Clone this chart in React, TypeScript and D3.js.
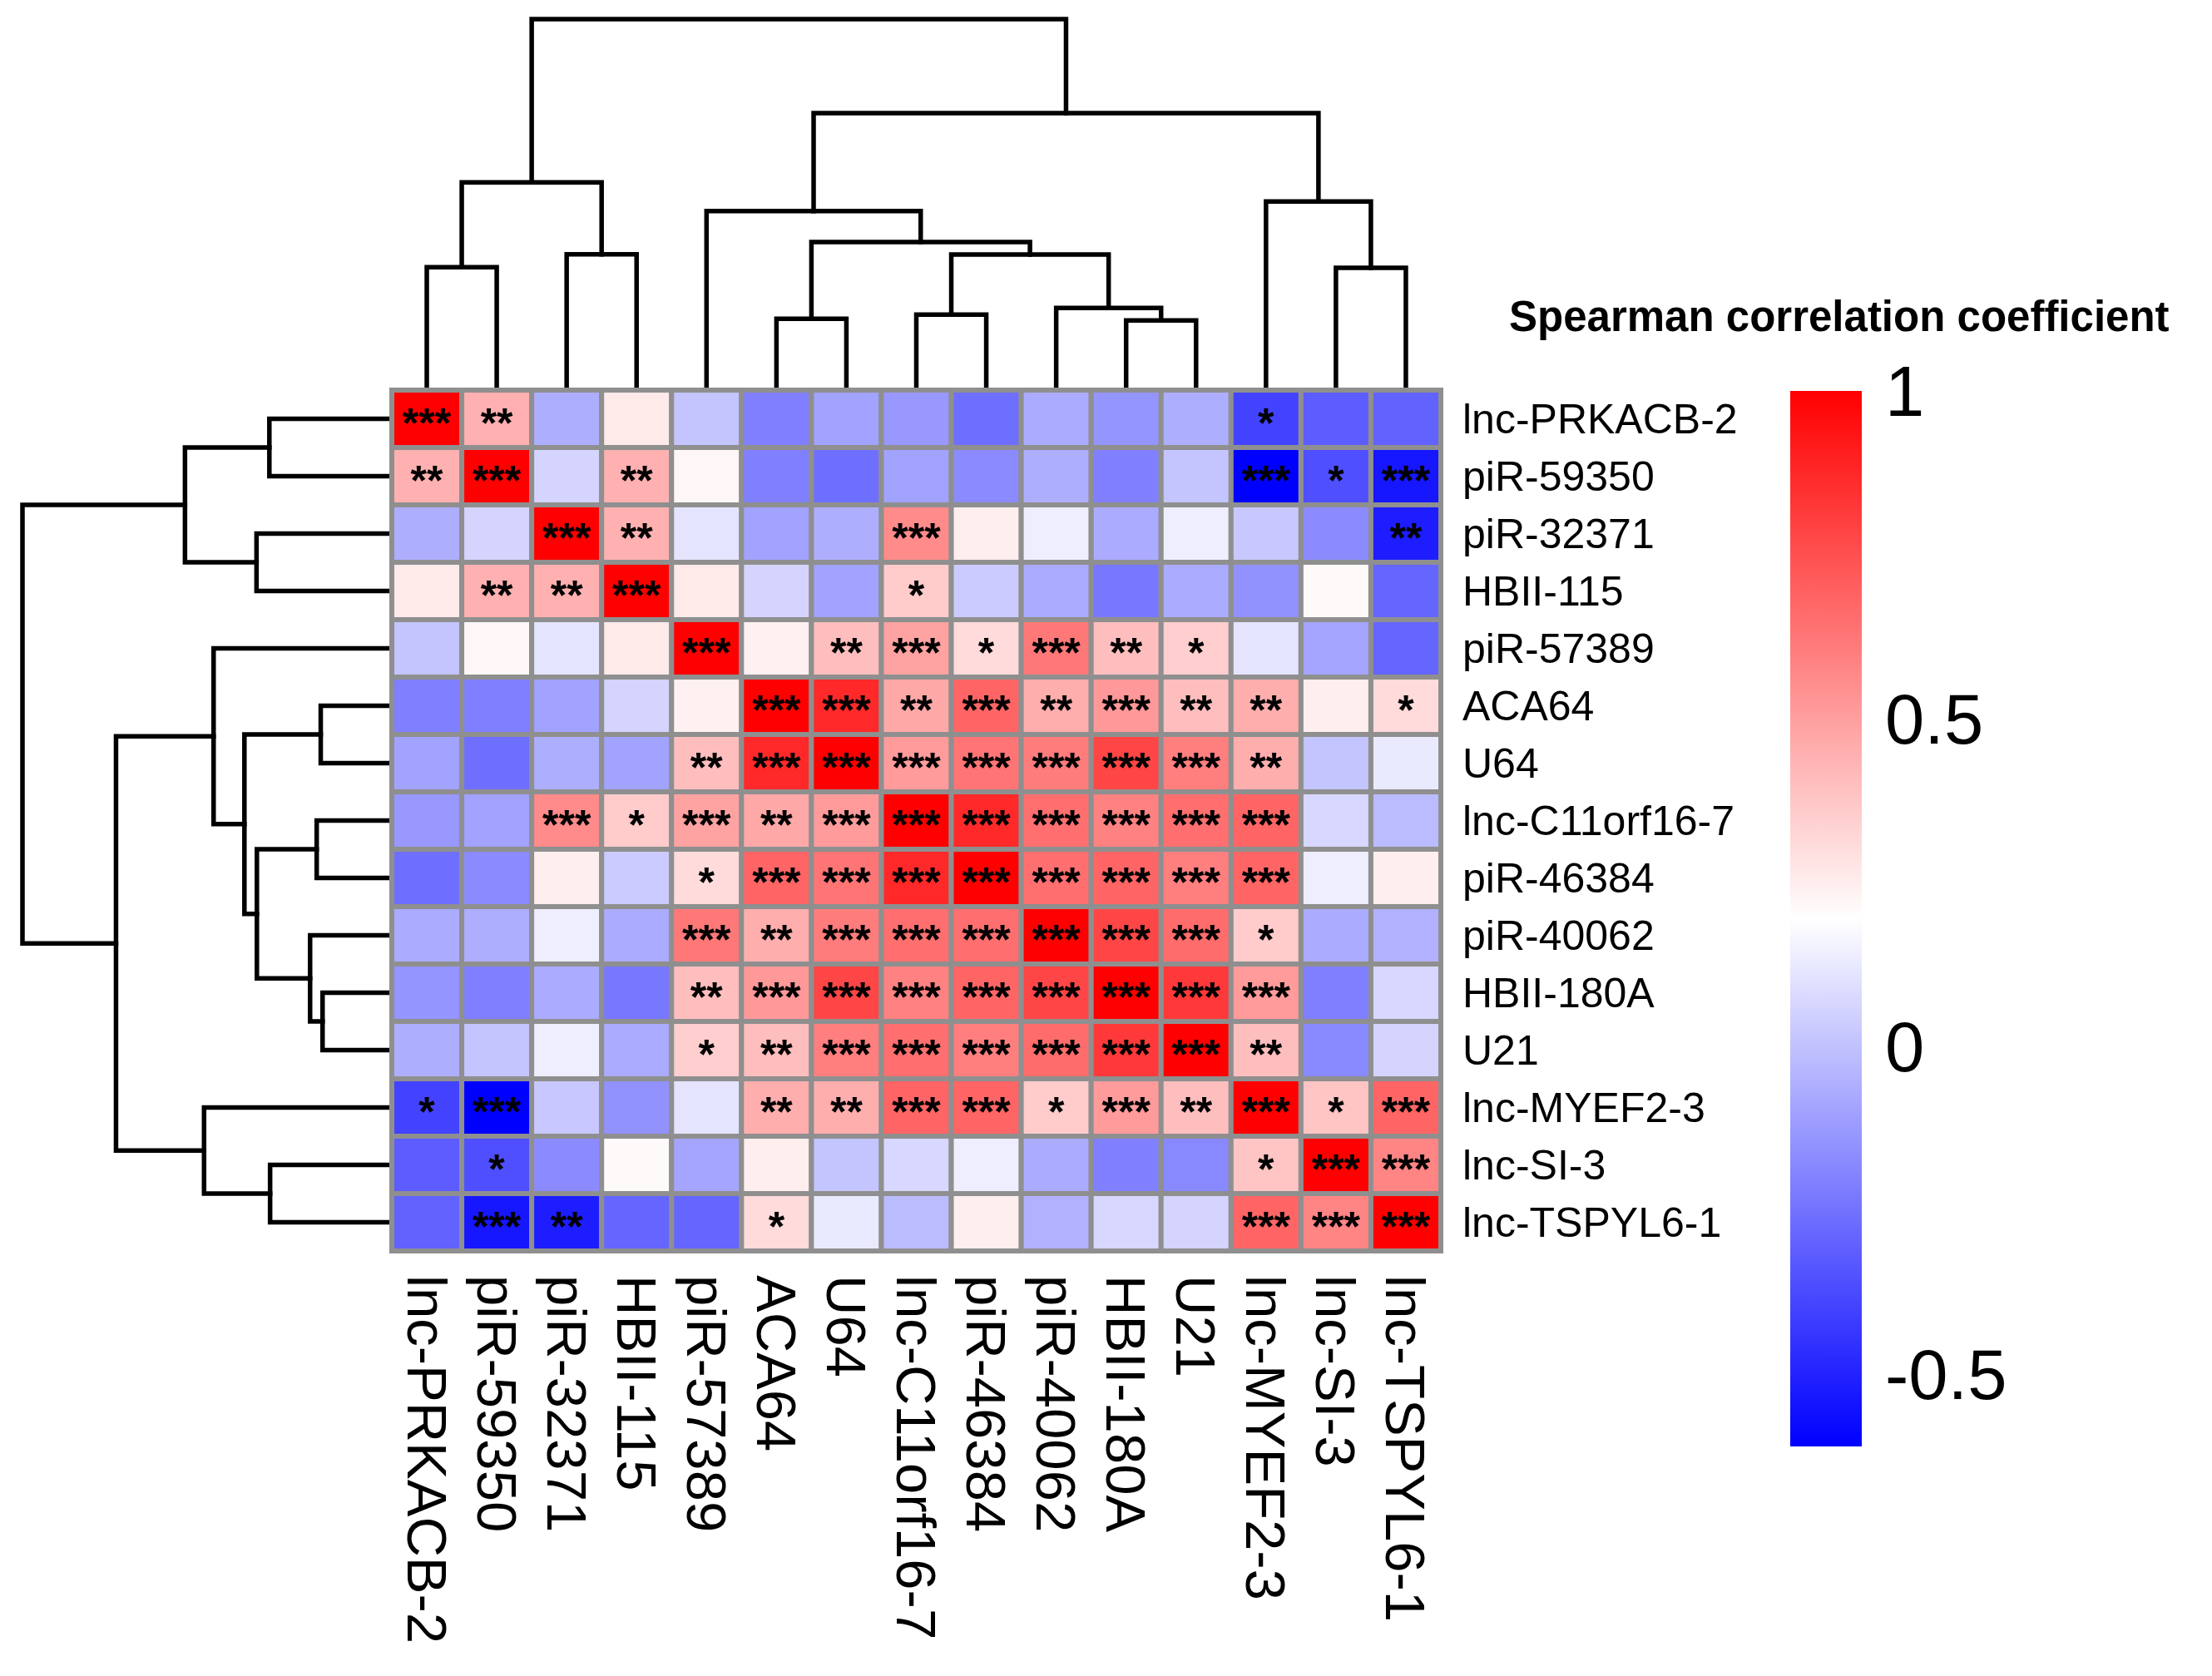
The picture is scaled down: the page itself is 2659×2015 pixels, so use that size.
import React from "react";
import * as d3 from "d3";

// Gene / RNA names (same order for rows and columns, dendrogram order)
const labels = [
  "lnc-PRKACB-2", "piR-59350", "piR-32371", "HBII-115", "piR-57389",
  "ACA64", "U64", "lnc-C11orf16-7", "piR-46384", "piR-40062",
  "HBII-180A", "U21", "lnc-MYEF2-3", "lnc-SI-3", "lnc-TSPYL6-1",
];

// Spearman correlation coefficients (row by row)
const corrRows: number[][] = [
  [1, 0.44, -0.06, 0.26, 0.01, -0.21, -0.10, -0.13, -0.26, -0.07, -0.14, -0.06, -0.40, -0.32, -0.30],
  [0.44, 1, 0.06, 0.44, 0.22, -0.21, -0.26, -0.10, -0.17, -0.06, -0.21, 0.01, -0.61, -0.36, -0.54],
  [-0.06, 0.06, 1, 0.44, 0.11, -0.10, -0.06, 0.56, 0.25, 0.14, -0.07, 0.14, 0.02, -0.17, -0.52],
  [0.26, 0.44, 0.44, 1, 0.26, 0.06, -0.10, 0.36, 0.03, -0.07, -0.23, -0.07, -0.15, 0.21, -0.29],
  [0.01, 0.22, 0.11, 0.26, 1, 0.24, 0.40, 0.49, 0.31, 0.62, 0.40, 0.35, 0.11, -0.09, -0.29],
  [-0.21, -0.21, -0.10, 0.06, 0.24, 1, 0.87, 0.47, 0.68, 0.45, 0.52, 0.40, 0.45, 0.25, 0.31],
  [-0.10, -0.26, -0.06, -0.10, 0.40, 0.87, 1, 0.51, 0.63, 0.61, 0.78, 0.60, 0.45, 0.01, 0.13],
  [-0.13, -0.10, 0.56, 0.36, 0.49, 0.47, 0.51, 1, 0.87, 0.65, 0.59, 0.65, 0.68, 0.07, -0.02],
  [-0.26, -0.17, 0.25, 0.03, 0.31, 0.68, 0.63, 0.87, 1, 0.65, 0.68, 0.60, 0.68, 0.14, 0.25],
  [-0.07, -0.06, 0.14, -0.07, 0.62, 0.45, 0.61, 0.65, 0.65, 1, 0.78, 0.66, 0.36, -0.07, -0.05],
  [-0.14, -0.21, -0.07, -0.23, 0.40, 0.52, 0.78, 0.59, 0.68, 0.78, 1, 0.82, 0.51, -0.21, 0.07],
  [-0.06, 0.01, 0.14, -0.07, 0.35, 0.40, 0.60, 0.65, 0.60, 0.66, 0.82, 1, 0.40, -0.18, 0.06],
  [-0.40, -0.61, 0.02, -0.15, 0.11, 0.45, 0.45, 0.68, 0.68, 0.36, 0.51, 0.40, 1, 0.38, 0.68],
  [-0.32, -0.36, -0.17, 0.21, -0.09, 0.25, 0.01, 0.07, 0.14, -0.07, -0.21, -0.18, 0.38, 1, 0.58],
  [-0.30, -0.54, -0.52, -0.29, -0.29, 0.31, 0.13, -0.02, 0.25, -0.05, 0.07, 0.06, 0.68, 0.58, 1],
];

// Significance marks, comma separated per row
const sigRows = [
  "***,**,,,,,,,,,,,*,,",
  "**,***,,**,,,,,,,,,***,*,***",
  ",,***,**,,,,***,,,,,,,**",
  ",**,**,***,,,,*,,,,,,,",
  ",,,,***,,**,***,*,***,**,*,,,",
  ",,,,,***,***,**,***,**,***,**,**,,*",
  ",,,,**,***,***,***,***,***,***,***,**,,",
  ",,***,*,***,**,***,***,***,***,***,***,***,,",
  ",,,,*,***,***,***,***,***,***,***,***,,",
  ",,,,***,**,***,***,***,***,***,***,*,,",
  ",,,,**,***,***,***,***,***,***,***,***,,",
  ",,,,*,**,***,***,***,***,***,***,**,,",
  "*,***,,,,**,**,***,***,*,***,**,***,*,***",
  ",*,,,,,,,,,,,*,***,***",
  ",***,**,,,*,,,,,,,***,***,***",
];

// Hierarchical clustering merges (negative = leaf -(index+1), positive = merge number)
const mergeLeft = [-11, -6, -8, -10, -14, -1, 3, -3, 2, -5, -13, 6, 10, 12];
const mergeRight = [-12, -7, -9, 1, -15, -2, 4, -4, 7, 9, 5, 8, 11, 13];
const mergeHeight = [0.182, 0.187, 0.198, 0.216, 0.325, 0.327, 0.361, 0.362, 0.395, 0.479, 0.505, 0.557, 0.745, 1.0];

// Legend
const legendTitle = "Spearman correlation coefficient";
const legendTicks = [1, 0.5, 0, -0.5];
const colorDomain = [-0.61, 0.195, 1];

const W = 2659;
const H = 2015;
const FONT = "'Liberation Sans', Arial, Helvetica, sans-serif";

export default function App() {
  const n = labels.length;
  const idx = d3.range(n);
  const x = d3.scaleBand<number>().domain(idx).range([471, 1732]);
  const y = d3.scaleBand<number>().domain(idx).range([469, 1504]);
  const color = d3
    .scaleLinear<string>()
    .domain(colorDomain)
    .range(["#0000ff", "#ffffff", "#ff0000"])
    .interpolate(d3.interpolateRgb);

  const sig = sigRows.map((r) => r.split(","));

  // dendrogram geometry
  const topH = d3.scaleLinear().domain([0, 1]).range([466, 23]);
  const leftH = d3.scaleLinear().domain([0, 1]).range([468, 27]);
  const pos: number[] = [];
  const hgt: number[] = [];
  const childPos = (c: number) => (c < 0 ? -c - 1 : pos[c - 1]);
  const childH = (c: number) => (c < 0 ? 0 : hgt[c - 1]);
  const cx = (p: number) => x(0)! + p * x.step() + x.bandwidth() / 2;
  const cy = (p: number) => y(0)! + p * y.step() + y.bandwidth() / 2;
  const topPaths: string[] = [];
  const leftPaths: string[] = [];
  mergeLeft.forEach((a, k) => {
    const b = mergeRight[k];
    const pa = childPos(a);
    const pb = childPos(b);
    const ha = childH(a);
    const hb = childH(b);
    const h = mergeHeight[k];
    pos.push((pa + pb) / 2);
    hgt.push(h);
    topPaths.push(`M${cx(pa)},${topH(ha)}V${topH(h)}H${cx(pb)}V${topH(hb)}`);
    leftPaths.push(`M${leftH(ha)},${cy(pa)}H${leftH(h)}V${cy(pb)}H${leftH(hb)}`);
  });

  const legendY = d3.scaleLinear().domain([colorDomain[0], colorDomain[2]]).range([1739, 470]);
  const gradStops = d3.range(0, 1.0001, 0.05).map((t) => {
    const v = colorDomain[2] - t * (colorDomain[2] - colorDomain[0]);
    return { offset: t, color: color(v) };
  });

  return (
    <svg
      width={W}
      height={H}
      viewBox={`0 0 ${W} ${H}`}
      style={{ position: "absolute", left: 0, top: 0, background: "#ffffff" }}
    >
      <rect x={0} y={0} width={W} height={H} fill="#ffffff" />
      <defs>
        <linearGradient id="cbar" x1="0" y1="0" x2="0" y2="1">
          {gradStops.map((s, i) => (
            <stop key={i} offset={s.offset} stopColor={s.color} />
          ))}
        </linearGradient>
      </defs>

      {/* dendrograms */}
      <g fill="none" stroke="#000" strokeWidth={5.5} strokeLinecap="square">
        {topPaths.map((d, i) => (
          <path key={"t" + i} d={d} />
        ))}
        {leftPaths.map((d, i) => (
          <path key={"l" + i} d={d} />
        ))}
      </g>

      {/* heatmap cells */}
      <g>
        {corrRows.map((row, i) =>
          row.map((v, j) => (
            <rect
              key={`c${i}-${j}`}
              x={x(j)}
              y={y(i)}
              width={x.bandwidth()}
              height={y.bandwidth()}
              fill={color(v)}
              stroke="#8f8f8f"
              strokeWidth={6}
            />
          ))
        )}
      </g>

      {/* significance stars */}
      <g fontFamily={FONT} fontSize={50} fontWeight="bold" textAnchor="middle" fill="#000">
        {sig.map((row, i) =>
          row.map((s, j) =>
            s ? (
              <text
                key={`s${i}-${j}`}
                x={x(j)! + x.bandwidth() / 2}
                y={y(i)! + y.bandwidth() / 2 + 22}
              >
                {s}
              </text>
            ) : null
          )
        )}
      </g>

      {/* row labels */}
      <g fontFamily={FONT} fontSize={50} fill="#000">
        {labels.map((l, i) => (
          <text key={"r" + i} x={1758} y={y(i)! + y.bandwidth() / 2} dominantBaseline="central">
            {l}
          </text>
        ))}
      </g>

      {/* column labels */}
      <g fontFamily={FONT} fontSize={67} fill="#000">
        {labels.map((l, j) => (
          <text
            key={"col" + j}
            transform={`translate(${x(j)! + x.bandwidth() / 2},1533) rotate(90)`}
            dominantBaseline="central"
          >
            {l}
          </text>
        ))}
      </g>

      {/* legend */}
      <text x={1814} y={398} fontFamily={FONT} fontSize={51} fontWeight="bold" fill="#000">
        {legendTitle}
      </text>
      <rect x={2152} y={470} width={86} height={1269} fill="url(#cbar)" />
      <g fontFamily={FONT} fontSize={85} fill="#000">
        {legendTicks.map((t) => (
          <text key={"lt" + t} x={2266} y={legendY(t)} dominantBaseline="central">
            {t}
          </text>
        ))}
      </g>
    </svg>
  );
}
